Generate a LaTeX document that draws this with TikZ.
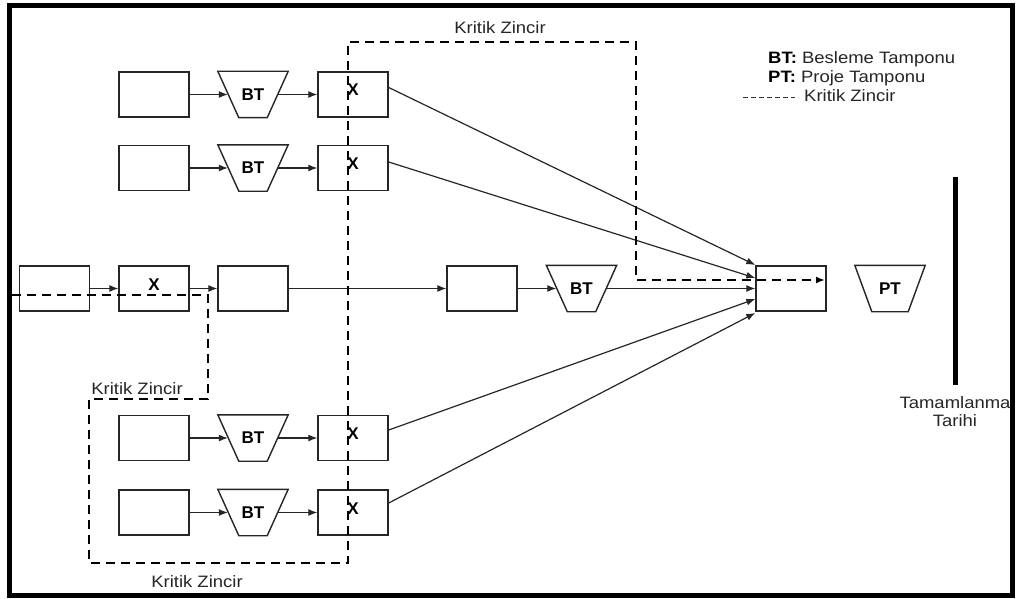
\documentclass[tikz,border=0pt]{standalone}
\usepackage{fontspec}
\setmainfont{Liberation Sans}[FakeStretch=1.12]
\newfontfamily\lblfont{Liberation Sans}
\usetikzlibrary{arrows.meta}
\begin{document}
\begin{tikzpicture}[x=1pt,y=-1pt,
  box/.style={draw=black!85, line width=1.4pt, minimum width=70pt, minimum height=45pt, inner sep=0pt},
  xbox/.style={box, font=\lblfont\fontsize{17}{19}\selectfont\bfseries, text height=12pt, text depth=9pt},
  tz/.style={minimum width=70pt, minimum height=46pt, inner sep=0pt, font=\lblfont\fontsize{17}{19}\selectfont\bfseries},
  tzline/.style={draw=black!85, line width=1.4pt},
  txt/.style={font=\fontsize{16.5}{18}\selectfont, text=black!85, inner sep=0pt},
  arr/.style={draw=black!85, line width=1.2pt, -{Latex[length=9pt,width=7pt]}},
  crit/.style={line width=2.4pt, dash pattern=on 9pt off 6pt}
]
\path[use as bounding box, fill=white] (0,0) rectangle (1019,599);
\draw[line width=5pt] (9.5,5.5) rectangle (1012,595.5);

% feeding chains
\foreach \r/\y in {1/94.5, 2/168, 4/438, 5/512.5}{
  \node[box] (a\r) at (154,\y) {};
  \node[tz] (b\r) at (253,\y) {BT};
  \node[xbox] (x\r) at (353,\y) {X};
}
% main chain
\node[box] (m1) at (54.5,288.5) {};
\node[xbox] (m2) at (154,288.5) {X};
\node[box] (m3) at (253,288.5) {};
\node[box] (m4) at (482,288.5) {};
\node[tz] (mb) at (581.5,288.5) {BT};
\node[box] (f) at (791,288.5) {};
\node[tz] (pt) at (890,288.5) {PT};

% trapezoid outlines
\foreach \n in {b1,b2,b4,b5,mb}{
  \draw[tzline] (\n.north west) -- (\n.north east) -- ([xshift=-21pt]\n.south east) -- ([xshift=21pt]\n.south west) -- cycle;
}
\draw[tzline] (pt.north west) -- (pt.north east) -- ([xshift=-17pt]pt.south east) -- ([xshift=17pt]pt.south west) -- cycle;

% arrows in feeding chains
\foreach \r in {1,2,4,5}{
  \draw[arr] (a\r.east) -- ([xshift=10pt]b\r.west);
  \draw[arr] ([xshift=-10pt]b\r.east) -- (x\r.west);
}
% main chain arrows
\draw[arr] (m1.east) -- (m2.west);
\draw[arr] (m2.east) -- (m3.west);
\draw[arr] (m3.east) -- (m4.west);
\draw[arr] (m4.east) -- ([xshift=10pt]mb.west);
\draw[arr] ([xshift=-10pt]mb.east) -- (f.west);
% converging arrows
\draw[arr] ([yshift=7pt]x1.east) -- ([yshift=23.5pt]f.west);
\draw[arr] ([yshift=6pt]x2.east) -- ([yshift=10.5pt]f.west);
\draw[arr] ([yshift=8pt]x4.east) -- ([yshift=-10.5pt]f.west);
\draw[arr] ([yshift=9.5pt]x5.east) -- ([yshift=-24.5pt]f.west);

% critical chain
\coordinate (d0) at (12,295);
\coordinate (d1) at (208,295);
\coordinate (d2) at (208,399);
\coordinate (d3) at (89,399);
\coordinate (d4) at (89,563);
\coordinate (d5) at (348,563);
\coordinate (d6) at (348,42);
\coordinate (d7) at (636,42);
\coordinate (d8) at (636,280);
\coordinate (d9) at (825,280);
\draw[crit, -{Latex[length=9pt,width=7pt]}] (d0) -- (d1) -- (d2) -- (d3) -- (d4) -- (d5) -- (d6) -- (d7) -- (d8) -- (d9);

% labels
\node[txt, anchor=base] (k1) at (500,34) {Kritik Zincir};
\node[txt, anchor=base] (k2) at (137,394) {Kritik Zincir};
\node[txt, anchor=base] (k3) at (197,587) {Kritik Zincir};

% legend
\node[txt, anchor=base west] (lg1) at (768,64) {\textcolor{black}{\textbf{BT:}} Besleme Tamponu};
\node[txt, anchor=base west] (lg2) at (768,83) {\textcolor{black}{\textbf{PT:}} Proje Tamponu};
\coordinate (ls) at (743,98);
\coordinate (le) at (795,98);
\draw[line width=1pt, black!80, dash pattern=on 5pt off 3pt] (ls) -- (le);
\node[txt, anchor=base west] (lg3) at (804,102) {Kritik Zincir};

% completion date
\coordinate (dl1) at (955,177);
\coordinate (dl2) at (955,385);
\draw[line width=5pt] (dl1) -- (dl2);
\node[txt, anchor=base] (tt1) at (955,408) {Tamamlanma};
\node[txt, anchor=base] (tt2) at (955,426) {Tarihi};
\end{tikzpicture}
\end{document}
